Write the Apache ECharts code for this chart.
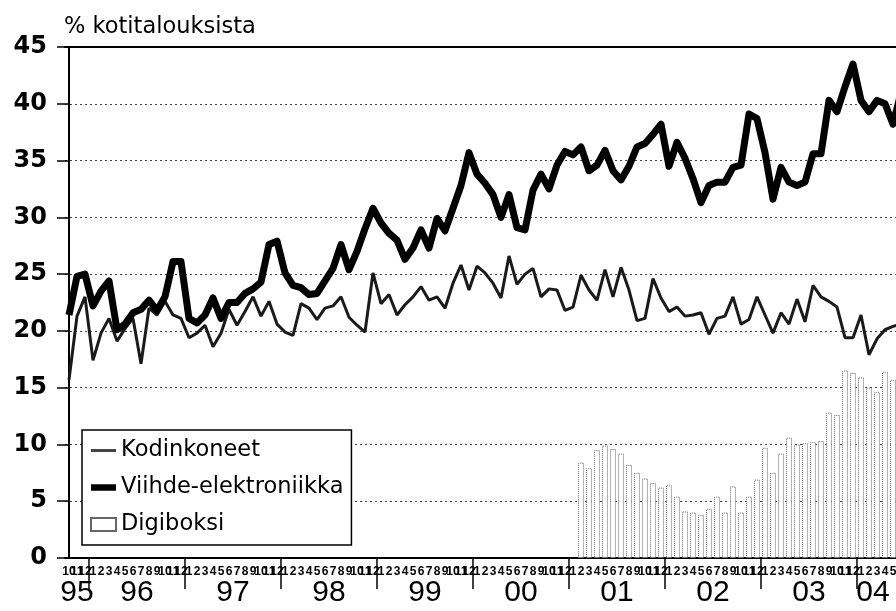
<!DOCTYPE html>
<html>
<head>
<meta charset="utf-8">
<title>Kotitaloudet</title>
<script src="https://cdn.jsdelivr.net/npm/echarts@6/dist/echarts.min.js"></script>
<style>
  html, body { margin: 0; padding: 0; background: #fff; }
  #container { width: 896px; height: 611px; }
</style>
</head>
<body>
<div id="container"></div>
<script>
// kuukaudet 10/1995 - 6/2004
const firstYearMonths = ['10', '11', '12'];
const fullYearMonths = ['1', '2', '3', '4', '5', '6', '7', '8', '9', '10', '11', '12'];
const lastYearMonths = ['1', '2', '3', '4', '5', '6'];
const fullYearCount = 8; // 1996 - 2003

// vuosien nimet ja niiden paikat (kuukausi-indeksinä)
const yearLabels = ['95', '96', '97', '98', '99', '00', '01', '02', '03', '04'];
const yearLabelAt = [1, 8.5, 20.5, 32.5, 44.5, 56.5, 68.5, 80.5, 92.5, 100.5];

// % kotitalouksista
const kodinkoneet = [
  15.7, 21.3, 23.0,
  17.4, 19.8, 21.1, 19.1, 20.2, 21.1, 17.1, 22.0, 21.4, 22.6, 21.4, 21.1,
  19.4, 19.8, 20.5, 18.6, 19.8, 21.9, 20.5, 21.7, 23.0, 21.3, 22.6, 20.6,
  19.9, 19.6, 22.4, 22.0, 21.0, 22.0, 22.2, 23.0, 21.2, 20.5, 19.9, 25.1,
  22.4, 23.2, 21.4, 22.3, 23.0, 23.9, 22.7, 23.0, 22.0, 24.2, 25.8, 23.6,
  25.7, 25.1, 24.2, 22.9, 26.6, 24.1, 25.0, 25.5, 23.0, 23.7, 23.6, 21.8,
  22.1, 24.9, 23.6, 22.7, 25.4, 23.0, 25.6, 23.6, 20.9, 21.1, 24.6, 22.9,
  21.7, 22.1, 21.3, 21.4, 21.6, 19.7, 21.1, 21.3, 23.0, 20.6, 21.0, 23.0,
  21.4, 19.8, 21.6, 20.6, 22.8, 20.8, 24.0, 23.0, 22.6, 22.1, 19.4, 19.4,
  21.4, 17.9, 19.3, 20.1, 20.4, 20.6
];

const viihde = [
  21.4, 24.8, 25.0,
  22.2, 23.5, 24.4, 20.1, 20.6, 21.6, 21.9, 22.7, 21.8, 23.0, 26.1, 26.1,
  21.1, 20.7, 21.4, 22.9, 21.1, 22.5, 22.5, 23.3, 23.7, 24.3, 27.6, 27.9,
  25.1, 24.0, 23.8, 23.2, 23.3, 24.4, 25.5, 27.6, 25.4, 27.0, 29.0, 30.8,
  29.5, 28.6, 28.0, 26.3, 27.3, 28.9, 27.3, 29.9, 28.8, 30.8, 32.8, 35.7,
  33.8, 33.0, 32.0, 30.0, 32.0, 29.1, 28.9, 32.4, 33.8, 32.5, 34.6, 35.8,
  35.5, 36.2, 34.1, 34.6, 35.9, 34.1, 33.3, 34.5, 36.2, 36.5, 37.3, 38.2,
  34.5, 36.6, 35.2, 33.4, 31.3, 32.8, 33.1, 33.1, 34.4, 34.6, 39.1, 38.7,
  35.7, 31.6, 34.4, 33.1, 32.8, 33.1, 35.6, 35.6, 40.3, 39.3, 41.5, 43.5,
  40.3, 39.3, 40.3, 40.0, 38.2, 41.0
];

// digiboksi helmikuusta 2001 alkaen
const digiboksiFrom = 64;
const digiboksiValues = [
  8.4, 7.9, 9.5, 9.9, 9.6, 9.2, 8.2, 7.5, 7.0, 6.6, 6.2,
  6.4, 5.4, 4.1, 4.0, 3.8, 4.3, 5.4, 4.0, 6.3, 4.0, 5.4, 6.9,
  9.7, 7.5, 9.2, 10.6, 10.0, 10.1, 10.2, 10.3, 12.8, 12.6, 16.5, 16.3,
  15.9, 15.0, 14.6, 16.4, 15.7, 15.5
];

// kuukausiakseli
let months = [...firstYearMonths];
for (let y = 0; y < fullYearCount; y++) {
  months = months.concat(fullYearMonths);
}
months = months.concat(lastYearMonths);

// digiboksi-sarja täytetään tyhjillä alkuun
const digiboksi = months.map((m, i) => i < digiboksiFrom ? null : digiboksiValues[i - digiboksiFrom]);

const dom = document.getElementById('container');
const myChart = echarts.init(dom, null, { renderer: 'canvas' });

const option = {
  animation: false,
  backgroundColor: '#fff',
  textStyle: { fontFamily: 'DejaVu Sans', color: '#000' },
  title: {
    text: '% kotitalouksista',
    left: 64,
    top: 16,
    padding: 0,
    textStyle: { fontSize: 22.5, fontWeight: 'normal', color: '#000', fontFamily: 'DejaVu Sans' }
  },
  legend: {
    orient: 'vertical',
    left: 82,
    top: 430,
    padding: [9, 8, 9, 8],
    itemGap: 14,
    itemWidth: 25,
    itemHeight: 13,
    backgroundColor: '#fff',
    borderColor: '#000',
    borderWidth: 1.5,
    borderRadius: 0,
    textStyle: { fontSize: 22.5, color: '#000', fontFamily: 'DejaVu Sans' },
    data: [
      // viivat selitteessä ilman pisteitä
      { name: 'Kodinkoneet', icon: 'path://M0,0H25V3H0Z', itemStyle: { color: '#444' } },
      { name: 'Viihde-elektroniikka', icon: 'path://M0,0H25V6.5H0Z' },
      { name: 'Digiboksi', icon: 'rect' }
    ]
  },
  grid: {
    left: 65,
    top: 47,
    width: 840,
    height: 511,
    containLabel: false,
    outerBoundsMode: 'none'
  },
  xAxis: [
    {
      // kuukaudet
      type: 'category',
      data: months,
      boundaryGap: true,
      position: 'bottom',
      axisLine: { show: true, onZero: false, lineStyle: { color: '#000', width: 2 } },
      axisTick: { show: false },
      axisLabel: {
        interval: 0,
        margin: 8,
        fontSize: 12,
        fontWeight: 'bold',
        fontFamily: 'Liberation Sans',
        color: '#000'
      },
      splitLine: { show: false }
    },
    {
      // vuosien väliviivat
      type: 'category',
      data: months,
      boundaryGap: true,
      position: 'bottom',
      offset: 20,
      axisLine: { show: false },
      axisTick: {
        show: true,
        length: 31,
        interval: (index) => months[index] === '1',
        lineStyle: { color: '#000', width: 1.5 }
      },
      axisLabel: { show: false },
      splitLine: { show: false }
    },
    {
      // vuosien nimet
      type: 'value',
      min: -0.5,
      max: months.length - 0.5,
      interval: 0.5,
      position: 'bottom',
      axisLine: { show: false },
      axisTick: { show: false },
      splitLine: { show: false },
      axisLabel: {
        margin: 20,
        fontSize: 30,
        fontFamily: 'Liberation Sans',
        color: '#000',
        formatter: function (v) {
          const k = yearLabelAt.indexOf(v);
          return k < 0 ? '' : yearLabels[k];
        }
      }
    },
    {
      // yläreuna
      type: 'category',
      data: months,
      position: 'top',
      axisLine: { show: true, lineStyle: { color: '#000', width: 2 } },
      axisTick: { show: false },
      axisLabel: { show: false },
      splitLine: { show: false }
    }
  ],
  yAxis: {
    type: 'value',
    min: 0,
    max: 45,
    interval: 5,
    axisLine: { show: true, lineStyle: { color: '#000', width: 2 } },
    axisTick: { show: true, length: 12, lineStyle: { color: '#000', width: 1.5 } },
    axisLabel: { margin: 18, fontSize: 24, fontWeight: 'bold', color: '#000', fontFamily: 'DejaVu Sans' },
    splitLine: { show: true, lineStyle: { color: '#444', width: 1, type: [2, 3] } }
  },
  series: [
    {
      name: 'Kodinkoneet',
      type: 'line',
      xAxisIndex: 0,
      data: kodinkoneet,
      symbol: 'none',
      lineStyle: { color: '#1a1a1a', width: 3 },
      itemStyle: { color: '#1a1a1a' },
      z: 4
    },
    {
      name: 'Viihde-elektroniikka',
      type: 'line',
      xAxisIndex: 0,
      data: viihde,
      symbol: 'none',
      lineStyle: { color: '#000', width: 7, join: 'round' },
      itemStyle: { color: '#000' },
      z: 5
    },
    {
      name: 'Digiboksi',
      type: 'bar',
      xAxisIndex: 0,
      data: digiboksi,
      barWidth: 6,
      itemStyle: { color: '#fff', borderColor: '#666', borderWidth: 1, borderType: 'dotted' },
      z: 2
    }
  ]
};

myChart.setOption(option, true);
</script>
</body>
</html>
